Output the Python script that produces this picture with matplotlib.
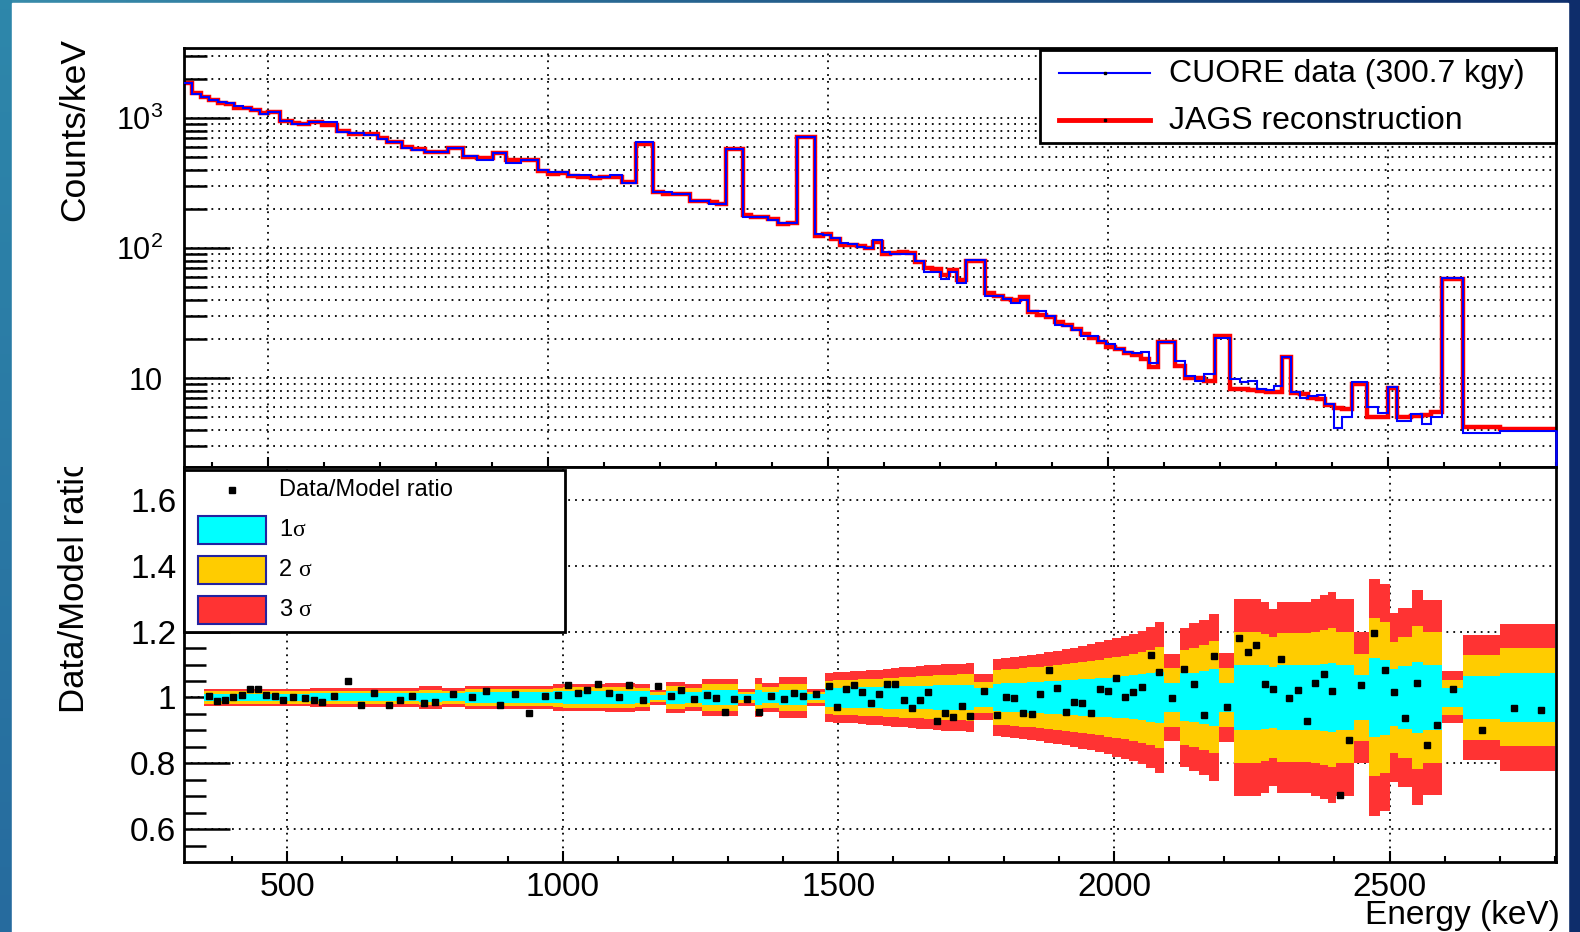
import numpy as np
import matplotlib.pyplot as plt
from matplotlib.patches import Rectangle
from matplotlib.lines import Line2D
from matplotlib.ticker import FixedLocator, FixedFormatter, NullFormatter
from matplotlib.transforms import Bbox, TransformedBbox

plt.rcParams['font.family'] = ['Liberation Sans', 'DejaVu Sans']
plt.rcParams['mathtext.fontset'] = 'custom'
plt.rcParams['mathtext.rm'] = 'Liberation Sans'

# bin edges (keV)
edges = np.array([
    350, 365, 380, 395, 410, 425, 440, 455, 470, 485,
    500, 522, 542, 555, 573, 597, 624, 645, 672, 696, 713, 740, 757, 781, 822,
    849, 873, 901, 925, 952, 982,
    1000, 1018, 1036, 1053, 1076, 1093, 1110, 1132, 1158, 1188, 1206, 1222, 1253,
    1270, 1287, 1302, 1318, 1349, 1362, 1393, 1410, 1428, 1444,
    1476, 1491, 1506, 1521, 1536, 1551, 1566, 1581, 1596, 1611, 1626, 1641, 1656,
    1671, 1686, 1701, 1716, 1731, 1746,
    1781, 1796, 1812, 1827, 1843, 1858, 1874, 1889, 1905, 1920, 1935, 1951, 1966,
    1982, 1997, 2012, 2028, 2043, 2059, 2074,
    2090, 2119, 2137, 2155, 2172, 2191, 2218, 2235, 2250, 2266, 2282, 2296, 2311,
    2326, 2342, 2358, 2373, 2388, 2403, 2418, 2435, 2463, 2482, 2500, 2516, 2541,
    2560, 2577, 2596, 2634, 2700, 2750, 2800], dtype=float)

# JAGS reconstruction (counts/keV)
model = np.array([
    1860, 1560, 1465, 1385, 1320, 1290, 1210, 1200, 1160, 1095,
    1120, 955, 915, 912, 930, 895, 800, 760, 755, 705, 660, 600, 582, 550, 592,
    500, 492, 540, 475, 476, 396,
    370, 379, 358, 352, 347, 352, 353, 322, 639, 269, 264, 263, 231, 232, 229,
    220, 579, 182, 173, 167, 154, 156, 715,
    124, 130, 117, 106, 107, 104, 100, 112, 90, 92, 94, 92, 78, 71, 69, 62, 68, 57,
    80,
    45, 43, 41, 40, 42.5, 32.5, 30.5, 29.5, 27, 25.5, 24, 22, 20.5, 19, 17.5,
    16.8, 15.8, 15.2, 14.2, 12.3,
    19.2, 12.5, 10.0, 10.1, 9.6, 21.0, 8.3, 8.3, 8.2, 8.0, 7.9, 7.8, 14.6, 7.7,
    7.6, 7.0, 6.9, 6.2, 5.9, 5.8, 9.0, 5.0, 5.0, 8.5, 5.0, 5.1, 5.2, 5.5, 58.0,
    4.2, 4.1, 4.1])

# data / model ratio per bin
ratio = np.array([
    1.005, 0.988, 0.991, 1.001, 1.008, 1.025, 1.026, 1.006, 1.003, 0.993,
    1.001, 0.997, 0.992, 0.987, 1.003, 1.050, 0.977, 1.013, 0.978, 0.992, 1.005,
    0.982, 0.987, 1.009, 1.001, 1.020, 0.976, 1.010, 0.953, 1.003, 1.007,
    1.038, 1.013, 1.022, 1.040, 1.014, 1.001, 1.037, 0.993, 1.035, 1.003, 1.024,
    0.996, 1.006, 0.999, 0.957, 0.994, 0.996, 0.956, 1.004, 0.995, 1.012, 1.003,
    1.010,
    1.034, 0.971, 1.025, 1.037, 1.015, 0.983, 1.009, 1.040, 1.040, 0.991, 0.968,
    0.991, 1.016, 0.927, 0.954, 0.939, 0.974, 0.944,
    1.018,
    0.947, 1.002, 0.997, 0.952, 0.949, 1.010, 1.083, 1.028, 0.956, 0.986, 0.982,
    0.954, 1.026, 1.021, 1.059, 1.001, 1.015, 1.031, 1.129, 1.076,
    0.997, 1.087, 1.040, 0.946, 1.125, 0.970, 1.181, 1.137, 1.159, 1.040, 1.027,
    1.116, 0.998, 1.023, 0.928, 1.043, 1.071, 1.019, 0.705, 0.872, 1.037, 1.197,
    1.084, 1.017, 0.938, 1.044, 0.854, 0.917, 1.027, 0.901, 0.967, 0.961])

# half widths of the 1, 2, 3 sigma bands
sig1 = np.array([
    0.011, 0.011, 0.011, 0.011, 0.011, 0.011, 0.011, 0.011, 0.011, 0.011,
    0.011, 0.011, 0.012, 0.012, 0.012, 0.012, 0.012, 0.012, 0.012, 0.012, 0.012,
    0.014, 0.014, 0.012, 0.016, 0.016, 0.016, 0.016, 0.016, 0.016, 0.018,
    0.019, 0.019, 0.019, 0.019, 0.020, 0.020, 0.020, 0.018, 0.008, 0.020, 0.020,
    0.016, 0.022, 0.022, 0.022, 0.022, 0.009, 0.024, 0.017, 0.024, 0.024, 0.024,
    0.009,
    0.030, 0.030, 0.031, 0.031, 0.032, 0.032, 0.033, 0.034, 0.034, 0.035, 0.035,
    0.036, 0.036, 0.037, 0.037, 0.038, 0.038, 0.039,
    0.028,
    0.042, 0.043, 0.044, 0.045, 0.046, 0.047, 0.049, 0.050, 0.052, 0.053, 0.055,
    0.057, 0.058, 0.060, 0.062, 0.064, 0.067, 0.070, 0.074, 0.078,
    0.045, 0.073, 0.075, 0.081, 0.086, 0.045, 0.100, 0.100, 0.100, 0.097, 0.093,
    0.098, 0.098, 0.098, 0.098, 0.100, 0.103, 0.105, 0.100, 0.100, 0.068, 0.120,
    0.115, 0.087, 0.095, 0.108, 0.099, 0.099, 0.028, 0.066, 0.075, 0.075])
sig2 = np.array([
    0.019, 0.019, 0.019, 0.019, 0.019, 0.019, 0.019, 0.019, 0.019, 0.019,
    0.019, 0.019, 0.020, 0.020, 0.020, 0.021, 0.020, 0.020, 0.020, 0.020, 0.020,
    0.024, 0.024, 0.021, 0.026, 0.026, 0.026, 0.026, 0.026, 0.026, 0.030,
    0.031, 0.031, 0.031, 0.031, 0.033, 0.033, 0.033, 0.030, 0.015, 0.034, 0.034,
    0.028, 0.040, 0.040, 0.040, 0.040, 0.017, 0.042, 0.031, 0.042, 0.042, 0.042,
    0.017,
    0.051, 0.052, 0.053, 0.054, 0.055, 0.056, 0.057, 0.059, 0.060, 0.062, 0.063,
    0.064, 0.066, 0.067, 0.068, 0.069, 0.070, 0.071,
    0.047,
    0.083, 0.085, 0.087, 0.089, 0.091, 0.093, 0.096, 0.099, 0.102, 0.105, 0.108,
    0.111, 0.115, 0.119, 0.122, 0.127, 0.132, 0.138, 0.145, 0.153,
    0.089, 0.144, 0.150, 0.159, 0.170, 0.089, 0.198, 0.200, 0.200, 0.192, 0.183,
    0.195, 0.195, 0.195, 0.195, 0.200, 0.205, 0.210, 0.200, 0.200, 0.133, 0.240,
    0.230, 0.169, 0.183, 0.218, 0.198, 0.198, 0.053, 0.128, 0.149, 0.149])
sig3 = np.array([
    0.026, 0.026, 0.026, 0.026, 0.026, 0.026, 0.026, 0.026, 0.026, 0.026,
    0.026, 0.026, 0.028, 0.028, 0.028, 0.029, 0.028, 0.028, 0.028, 0.028, 0.028,
    0.034, 0.034, 0.029, 0.035, 0.035, 0.035, 0.035, 0.035, 0.035, 0.040,
    0.042, 0.042, 0.042, 0.042, 0.045, 0.045, 0.045, 0.040, 0.022, 0.047, 0.047,
    0.040, 0.055, 0.055, 0.055, 0.055, 0.025, 0.060, 0.045, 0.062, 0.062, 0.062,
    0.025,
    0.075, 0.077, 0.078, 0.079, 0.081, 0.083, 0.084, 0.087, 0.089, 0.091, 0.093,
    0.095, 0.097, 0.099, 0.101, 0.102, 0.103, 0.105,
    0.070,
    0.117, 0.119, 0.122, 0.125, 0.128, 0.132, 0.137, 0.141, 0.146, 0.151, 0.156,
    0.161, 0.167, 0.173, 0.180, 0.186, 0.193, 0.203, 0.215, 0.229,
    0.132, 0.212, 0.225, 0.236, 0.254, 0.134, 0.300, 0.300, 0.300, 0.290, 0.270,
    0.290, 0.290, 0.290, 0.290, 0.300, 0.310, 0.320, 0.300, 0.300, 0.198, 0.360,
    0.345, 0.256, 0.272, 0.327, 0.297, 0.297, 0.079, 0.190, 0.223, 0.223])

# measured spectrum = model x (data/model)
data = model * ratio
centers = (edges[:-1] + edges[1:]) / 2

W, H = 1580, 932
fig = plt.figure(figsize=(W / 100, H / 100), dpi=100)


def fx(x):
    return x / W


def fy(y):
    return 1 - y / H


# slide background
bg = fig.add_axes([0, 0, 1, 1], zorder=-10)
top_grad = np.linspace([0.22, 0.55, 0.67], [0.06, 0.19, 0.43], 200).reshape(1, 200, 3)
left_grad = np.linspace([0.18, 0.53, 0.67], [0.15, 0.42, 0.62], 100).reshape(100, 1, 3)
bg.imshow(top_grad, extent=[0, W, 4, 0], aspect='auto')
bg.imshow(left_grad, extent=[0, 12, H, 0], aspect='auto')
bg.add_patch(Rectangle((1568, 0), 12, H, color='#0e2d6b'))
bg.add_patch(Rectangle((12, 3), 1556, H, color='white'))
bg.set_xlim(0, W)
bg.set_ylim(H, 0)
bg.axis('off')

ax1 = fig.add_axes([fx(184), fy(467), (1556 - 184) / W, (467 - 48) / H])
ax2 = fig.add_axes([fx(184), fy(862), (1556 - 184) / W, (862 - 467) / H])

grid_kw = dict(color='black', linestyle=(0, (1, 2.8)), linewidth=1.3)

# ---- top panel ----
ax1.set_xlim(350, 2800)
ax1.set_yscale('log')
ax1.set_ylim(2.08, 3475)
ax1.stairs(model, edges, color='#ff0000', lw=3.2, baseline=None, zorder=3)
ax1.stairs(data, edges, color='#0000ff', lw=1.5, baseline=None, zorder=4)
# closing edge of the data histogram at the upper end of the range
ax1.plot([edges[-1], edges[-1]], [data[-1], ax1.get_ylim()[0]], color='#0000ff',
         lw=1.8, zorder=4, clip_on=False)
ax1.xaxis.set_major_locator(FixedLocator([500, 1000, 1500, 2000, 2500]))
ax1.xaxis.set_minor_locator(FixedLocator(range(400, 2801, 100)))
ax1.tick_params(axis='x', which='major', direction='in', length=7.5, width=1.5,
                labelbottom=False, top=False)
ax1.tick_params(axis='x', which='minor', direction='in', length=3.8, width=1.5, top=False)
ax1.yaxis.set_major_locator(FixedLocator([10, 100, 1000]))
ax1.yaxis.set_major_formatter(FixedFormatter([r'$\mathregular{10}$',
                                              r'$\mathregular{10^{2}}$',
                                              r'$\mathregular{10^{3}}$']))
minor_y = [m * d for d in (1, 10, 100, 1000) for m in range(2, 10)]
ax1.yaxis.set_minor_locator(FixedLocator(minor_y))
ax1.yaxis.set_minor_formatter(NullFormatter())
ax1.tick_params(axis='y', which='major', direction='in', length=33, width=1.8,
                labelsize=22, pad=15, right=False)
ax1.tick_params(axis='y', which='minor', direction='in', length=16.5, width=1.8, right=False)
ax1.grid(True, which='major', axis='x', **grid_kw)
ax1.grid(True, which='both', axis='y', **grid_kw)

# ---- bottom panel ----
ax2.stairs(1 + sig3, edges, baseline=1 - sig3, fill=True, color='#ff3333', lw=0, zorder=2)
ax2.stairs(1 + sig2, edges, baseline=1 - sig2, fill=True, color='#ffcc00', lw=0, zorder=2.1)
ax2.stairs(1 + sig1, edges, baseline=1 - sig1, fill=True, color='#00ffff', lw=0, zorder=2.2)
ax2.plot(centers, ratio, ls='none', marker='s', ms=3.7, color='black', zorder=5)
ax2.set_xlim(313, 2802)
ax2.set_ylim(0.5, 1.7)
ax2.xaxis.set_major_locator(FixedLocator([500, 1000, 1500, 2000, 2500]))
ax2.xaxis.set_minor_locator(FixedLocator(range(400, 2801, 100)))
ax2.tick_params(axis='x', which='major', direction='in', length=7.7, width=1.5,
                labelsize=24, pad=7, top=False)
ax2.tick_params(axis='x', which='minor', direction='in', length=4, width=1.5, top=False)
ax2.yaxis.set_major_locator(FixedLocator([0.6, 0.8, 1.0, 1.2, 1.4, 1.6]))
ax2.yaxis.set_major_formatter(FixedFormatter(['0.6', '0.8', '1', '1.2', '1.4', '1.6']))
ax2.yaxis.set_minor_locator(FixedLocator(np.arange(0.55, 1.7, 0.05)))
ax2.tick_params(axis='y', which='major', direction='in', length=33, width=1.8,
                labelsize=24, pad=5.5, right=False)
ax2.tick_params(axis='y', which='minor', direction='in', length=16, width=1.8, right=False)
ax2.grid(True, which='major', axis='both', **grid_kw)

for ax in (ax1, ax2):
    for sp in ax.spines.values():
        sp.set_linewidth(2)
        sp.set_zorder(3.5)

# axis titles
fig.text(fx(74.6), fy(38), 'Counts/keV', rotation=90, ha='center', va='top', fontsize=25.5)
yl = fig.text(fx(74.6), fy(713), 'Data/Model ratio', rotation=90, ha='center',
              va='bottom', fontsize=25)
yl.set_clip_box(TransformedBbox(Bbox.from_extents(0, 0, 1, fy(467)), fig.transFigure))
yl.set_clip_on(True)
fig.text(fx(1560), fy(924), 'Energy (keV)', ha='right', va='baseline', fontsize=24)

# ---- top legend ----
tf = fig.transFigure
fig.add_artist(Rectangle((fx(1040), fy(143)), fx(1556) - fx(1040), fy(50) - fy(143),
                         transform=tf, facecolor='white', edgecolor='black', lw=2, zorder=6))
fig.add_artist(Line2D([fx(1059), fx(1150)], [fy(73), fy(73)], transform=tf,
                      color='#0000ff', lw=1.5, zorder=7))
fig.add_artist(Line2D([fx(1059), fx(1150)], [fy(120), fy(120)], transform=tf,
                      color='#ff0000', lw=3.5, zorder=7))
fig.add_artist(Line2D([fx(1104.5)], [fy(73)], transform=tf, marker='s', ms=1.5,
                      color='black', ls='none', zorder=8))
fig.add_artist(Line2D([fx(1104.5)], [fy(120)], transform=tf, marker='s', ms=1.5,
                      color='black', ls='none', zorder=8))
fig.text(fx(1169), fy(74), 'CUORE data (300.7 kgy)', ha='left', va='center',
         fontsize=23, zorder=8)
fig.text(fx(1169), fy(121), 'JAGS reconstruction', ha='left', va='center',
         fontsize=23, zorder=8)

# ---- bottom legend ----
fig.add_artist(Rectangle((fx(184), fy(632)), fx(564.5) - fx(184), fy(470) - fy(632),
                         transform=tf, facecolor='white', edgecolor='black', lw=2, zorder=6))
fig.add_artist(Line2D([fx(231.5)], [fy(490)], transform=tf, marker='s', ms=3.7,
                      color='black', ls='none', zorder=8))
fig.text(fx(279), fy(490), 'Data/Model ratio', ha='left', va='center', fontsize=17, zorder=8)
band_items = [('1', 530, '#00ffff', 292.5), ('2', 570, '#ffcc00', 298.5),
              ('3', 610, '#ff3333', 298.5)]
for num, yc, col, xs in band_items:
    fig.add_artist(Rectangle((fx(198), fy(yc + 14)), fx(266) - fx(198), fy(yc - 14) - fy(yc + 14),
                             transform=tf, facecolor=col, edgecolor='#2323a0', lw=1.5, zorder=7))
    fig.text(fx(279), fy(yc), num, ha='left', va='center', fontsize=17, zorder=8)
    fig.text(fx(xs), fy(yc), '\u03c3', ha='left', va='center', fontsize=17, zorder=8,
             family=['Liberation Serif', 'DejaVu Serif'])

fig.savefig('out.png', dpi=100)
